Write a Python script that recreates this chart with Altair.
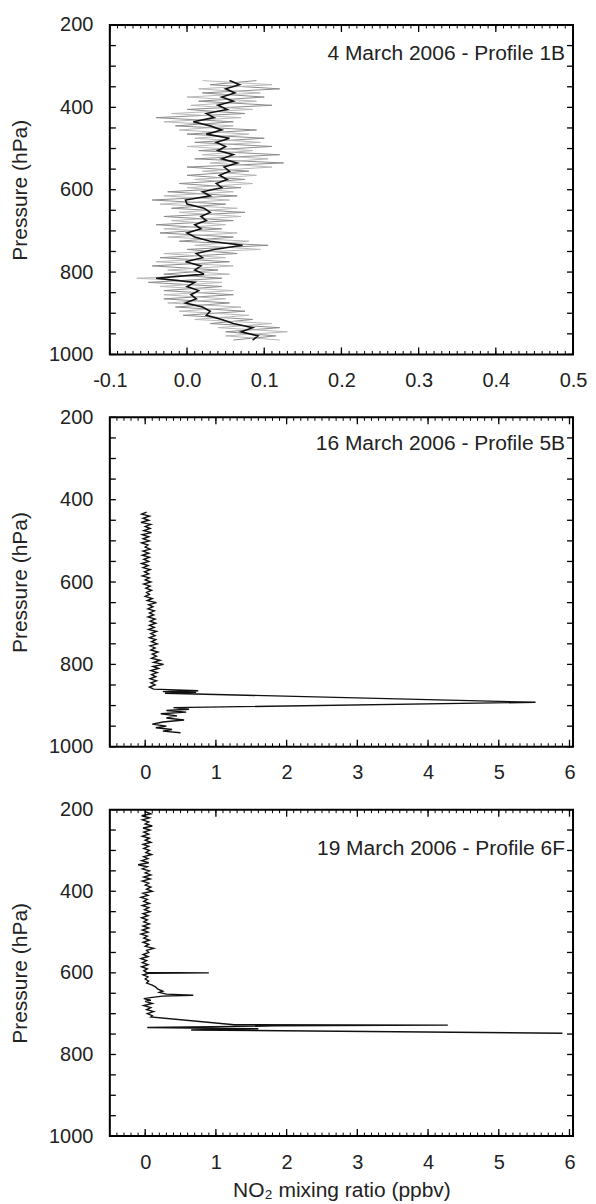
import altair as alt
import pandas as pd

FONT = "Liberation Sans"
TXT = "#222222"
W = 464
H1, H2, H3 = 330, 330, 327

# ---------------- texts ----------------
annotations = ["4 March 2006 - Profile 1B",
               "16 March 2006 - Profile 5B",
               "19 March 2006 - Profile 6F"]
y_title = "Pressure (hPa)"
x_title = "NO\u2082 mixing ratio (ppbv)"

# ---------------- axis values ----------------
y_label_values = [200, 400, 600, 800, 1000]
y_tick_values = [200, 250, 300, 350, 400, 450, 500, 550, 600, 650,
                 700, 750, 800, 850, 900, 950, 1000]
x1_label_values = [-0.1, 0.0, 0.1, 0.2, 0.3, 0.4, 0.5]
x1_minor = [round(-0.1 + 0.01 * i, 2) for i in range(61)]
x23_label_values = [0, 1, 2, 3, 4, 5, 6]
x23_minor = [round(-0.5 + 0.1 * i, 1) for i in range(66)]

# ---------------- panel 1 data (4 March 2006) ----------------
p1_pressure = [335, 345, 355, 365, 375, 385, 395, 405, 415, 425,
               435, 445, 455, 465, 475, 485, 495, 505, 515, 525,
               535, 545, 555, 565, 575, 585, 595, 605, 615, 625,
               635, 645, 655, 665, 675, 685, 695, 705, 715, 725,
               735, 745, 755, 765, 775, 785, 795, 805, 815, 825,
               835, 845, 855, 865, 875, 885, 895, 905, 915, 925,
               935, 945, 955, 965]
p1_black = [0.055, 0.068, 0.050, 0.062, 0.045, 0.060, 0.040, 0.052, 0.025, 0.035,
            0.008, 0.030, 0.045, 0.025, 0.055, 0.038, 0.050, 0.040, 0.060, 0.045,
            0.065, 0.048, 0.055, 0.042, 0.052, 0.038, 0.045, 0.020, 0.030, -0.002,
            0.000, 0.022, 0.030, 0.018, 0.025, 0.010, 0.018, 0.000, 0.010, 0.030,
            0.072, 0.035, 0.012, 0.020, -0.002, 0.018, 0.010, 0.022, -0.040, 0.010,
            0.000, 0.015, 0.005, 0.012, -0.002, 0.020, 0.030, 0.025, 0.045, 0.060,
            0.085, 0.070, 0.092, 0.085]
p1_gray_a = [0.020, 0.110, 0.015, 0.095, 0.000, 0.090, 0.005, 0.085, -0.020, 0.070,
             -0.030, 0.060, -0.010, 0.080, 0.010, 0.095, 0.000, 0.085, 0.020, 0.105,
             0.030, 0.110, 0.020, 0.090, 0.010, 0.085, 0.000, 0.060, -0.030, 0.055,
             -0.035, 0.065, -0.010, 0.070, -0.020, 0.050, -0.030, 0.065, -0.025, 0.080,
             0.010, 0.095, -0.030, 0.050, -0.040, 0.060, -0.025, 0.055, -0.065, 0.045,
             -0.035, 0.060, -0.030, 0.050, -0.025, 0.070, -0.010, 0.080, 0.010, 0.110,
             0.040, 0.130, 0.050, 0.120]
p1_gray_b = [0.090, 0.030, 0.120, 0.020, 0.100, 0.015, 0.110, 0.000, 0.075, -0.040,
             0.060, -0.015, 0.090, 0.000, 0.100, 0.010, 0.110, 0.015, 0.120, 0.010,
             0.125, 0.000, 0.080, 0.000, 0.075, -0.010, 0.070, -0.025, 0.065, -0.045,
             0.050, -0.020, 0.075, -0.030, 0.060, -0.040, 0.045, -0.035, 0.060, -0.010,
             0.105, 0.000, 0.065, -0.035, 0.055, -0.045, 0.040, -0.030, 0.045, -0.050,
             0.045, -0.030, 0.060, -0.030, 0.055, -0.015, 0.075, -0.005, 0.085, 0.030,
             0.120, 0.050, 0.115, 0.060]

# ---------------- panel 2 data (16 March 2006) ----------------
p2_pressure = [430, 435, 440, 445, 450, 455, 460, 465, 470, 475,
               480, 485, 490, 495, 500, 505, 510, 515, 520, 525,
               530, 535, 540, 545, 550, 555, 560, 565, 570, 575,
               580, 585, 590, 595, 600, 605, 610, 615, 620, 625,
               630, 635, 640, 645, 650, 655, 660, 665, 670, 675,
               680, 685, 690, 695, 700, 705, 710, 715, 720, 725,
               730, 735, 740, 745, 750, 755, 760, 765, 770, 775,
               780, 785, 790, 795, 800, 805, 810, 815, 820, 825,
               830, 835, 840, 845, 850, 855, 860,
               864, 866, 868, 870, 892, 905, 909, 912, 916, 920,
               925, 930, 935, 940, 945, 950, 954, 958, 962, 966]
p2_no2 = [0.02, -0.05, 0.06, -0.03, 0.05, -0.06, 0.08, 0.00, 0.07, -0.02,
          0.09, -0.04, 0.05, -0.03, 0.06, -0.05, 0.04, 0.00, 0.07, -0.03,
          0.05, -0.04, 0.06, -0.02, 0.05, -0.05, 0.04, -0.03, 0.07, -0.01,
          0.05, -0.04, 0.06, 0.00, 0.08, -0.02, 0.07, 0.01, 0.09, 0.02,
          0.06, 0.00, 0.10, 0.03, 0.16, 0.05, 0.11, 0.04, 0.13, 0.06,
          0.12, 0.04, 0.14, 0.07, 0.15, 0.06, 0.13, 0.05, 0.16, 0.08,
          0.14, 0.06, 0.15, 0.09, 0.17, 0.07, 0.14, 0.08, 0.18, 0.10,
          0.16, 0.09, 0.21, 0.12, 0.26, 0.11, 0.19, 0.08, 0.17, 0.09,
          0.15, 0.07, 0.16, 0.08, 0.14, 0.06, 0.12,
          0.75, 0.25, 0.72, 0.28, 5.52, 0.40, 0.62, 0.30, 0.58, 0.22,
          0.45, 0.30, 0.55, 0.25, 0.10, 0.30, 0.15, 0.38, 0.25, 0.50]

# ---------------- panel 3 data (19 March 2006) ----------------
p3_pressure = [205, 210, 215, 220, 225, 230, 235, 240, 245, 250,
               255, 260, 265, 270, 275, 280, 285, 290, 295, 300,
               305, 310, 315, 320, 325, 330, 335, 340, 345, 350,
               355, 360, 365, 370, 375, 380, 385, 390, 395, 400,
               405, 410, 415, 420, 425, 430, 435, 440, 445, 450,
               455, 460, 465, 470, 475, 480, 485, 490, 495, 500,
               505, 510, 515, 520, 525, 530, 535, 540, 545, 550,
               555, 560, 565, 570, 575, 580, 585, 590, 595, 599,
               600, 601, 605, 610, 615, 620, 625, 630, 635, 640,
               645, 648, 652, 655, 657, 660, 663, 667, 670, 675,
               680, 685, 690, 695, 700, 705, 708, 727, 728, 730,
               734, 737, 740, 748]
p3_no2 = [0.00, 0.08, -0.05, 0.06, -0.04, 0.05, 0.00, 0.10, -0.03, 0.07,
          -0.02, 0.05, -0.04, 0.06, 0.00, 0.08, -0.03, 0.05, -0.02, 0.06,
          0.01, 0.09, -0.02, 0.04, -0.05, 0.05, -0.10, 0.03, -0.04, 0.06,
          0.00, 0.08, -0.02, 0.07, -0.04, 0.05, 0.00, 0.08, 0.02, 0.10,
          -0.03, 0.04, -0.06, 0.03, -0.02, 0.06, -0.04, 0.05, -0.01, 0.07,
          -0.03, 0.04, -0.05, 0.03, -0.02, 0.06, -0.03, 0.05, -0.04, 0.04,
          -0.06, 0.03, -0.02, 0.06, -0.03, 0.05, 0.00, 0.12, 0.02, 0.05,
          -0.03, 0.04, -0.06, 0.02, -0.04, 0.04, -0.05, 0.03, -0.02, 0.02,
          0.90, 0.05, -0.03, 0.04, 0.00, 0.05, 0.02, 0.10, 0.15, 0.18,
          0.25, 0.20, 0.30, 0.68, 0.25, 0.10, -0.02, 0.08, 0.00, 0.10,
          -0.02, 0.08, 0.02, 0.12, 0.03, 0.10, 0.08, 1.26, 4.28, 1.84,
          0.03, 1.60, 0.65, 5.90]


def line_layer(p, v, color, width, xs, ys, xaxis, yaxis):
    df = pd.DataFrame({"i": list(range(len(p))), "p": p, "v": v})
    return alt.Chart(df).mark_line(color=color, strokeWidth=width, clip=True).encode(
        x=alt.X("v:Q", scale=xs, axis=xaxis),
        y=alt.Y("p:Q", scale=ys, axis=yaxis),
        order=alt.Order("i:Q"),
    )


def tick_layers(xs, ys, H, minor, major, xaxis, yaxis):
    yt = pd.DataFrame({"p": y_tick_values})
    mn = pd.DataFrame({"v": minor})
    mj = pd.DataFrame({"v": major})
    st = dict(color="black", strokeWidth=1.3)
    left = alt.Chart(yt).mark_rule(**st).encode(
        y=alt.Y("p:Q", scale=ys, axis=yaxis), x=alt.value(0), x2=alt.value(6))
    right = alt.Chart(yt).mark_rule(**st).encode(
        y=alt.Y("p:Q", scale=ys, axis=yaxis), x=alt.value(W - 6), x2=alt.value(W))
    bmin = alt.Chart(mn).mark_rule(color="black", strokeWidth=1).encode(
        x=alt.X("v:Q", scale=xs, axis=xaxis), y=alt.value(H), y2=alt.value(H - 3.5))
    tmin = alt.Chart(mn).mark_rule(color="black", strokeWidth=1).encode(
        x=alt.X("v:Q", scale=xs, axis=xaxis), y=alt.value(0), y2=alt.value(3.5))
    bmaj = alt.Chart(mj).mark_rule(**st).encode(
        x=alt.X("v:Q", scale=xs, axis=xaxis), y=alt.value(H), y2=alt.value(H - 7))
    tmaj = alt.Chart(mj).mark_rule(**st).encode(
        x=alt.X("v:Q", scale=xs, axis=xaxis), y=alt.value(0), y2=alt.value(7))
    return [left, right, bmin, tmin, bmaj, tmaj]


def make_axes(xvals, xlabel_expr, with_title):
    yaxis = alt.Axis(values=y_label_values, format="d", title=y_title,
                     ticks=False, domain=False, grid=False,
                     labelPadding=17, labelFontSize=20, titleFontSize=21,
                     titlePadding=18, labelColor=TXT, titleColor=TXT,
                     labelFont=FONT, titleFont=FONT, titleFontWeight="normal")
    xkw = dict(values=xvals, labelExpr=xlabel_expr, ticks=False, domain=False,
               grid=False, labelPadding=16, labelFontSize=20, labelFlush=False,
               labelOverlap=False, labelColor=TXT, labelFont=FONT)
    if with_title:
        xaxis = alt.Axis(title=x_title, titleFontSize=21, titlePadding=8,
                         titleColor=TXT, titleFont=FONT,
                         titleFontWeight="normal", **xkw)
    else:
        xaxis = alt.Axis(title=None, **xkw)
    return xaxis, yaxis


def annot(text, ypos):
    df = pd.DataFrame({"t": [text]})
    return alt.Chart(df).mark_text(align="right", baseline="middle", fontSize=21,
                                   font=FONT, color=TXT).encode(
        text="t:N", x=alt.value(W - 8), y=alt.value(ypos))


LABEL_1DEC = "datum.value < 0 ? '-' + format(-datum.value, '.1f') : format(datum.value, '.1f')"
LABEL_INT = "format(datum.value, 'd')"

ys = alt.Scale(domain=[200, 1000], reverse=True, nice=False, zero=False)

# panel 1
xs1 = alt.Scale(domain=[-0.1, 0.5], nice=False, zero=False)
xa1, ya1 = make_axes(x1_label_values, LABEL_1DEC, False)
panel1 = alt.layer(
    line_layer(p1_pressure, p1_gray_b, "#8c8c8c", 1, xs1, ys, xa1, ya1),
    line_layer(p1_pressure, p1_gray_a, "#b8b8b8", 1, xs1, ys, xa1, ya1),
    line_layer(p1_pressure, p1_black, "#111111", 1.6, xs1, ys, xa1, ya1),
    *tick_layers(xs1, ys, H1, x1_minor, x1_label_values, xa1, ya1),
    annot(annotations[0], 29),
).properties(width=W, height=H1)

# panel 2
xs2 = alt.Scale(domain=[-0.5, 6.05], nice=False, zero=False)
xa2, ya2 = make_axes(x23_label_values, LABEL_INT, False)
panel2 = alt.layer(
    line_layer(p2_pressure, p2_no2, "#111111", 1.4, xs2, ys, xa2, ya2),
    *tick_layers(xs2, ys, H2, x23_minor, x23_label_values, xa2, ya2),
    annot(annotations[1], 27),
).properties(width=W, height=H2)

# panel 3
xa3, ya3 = make_axes(x23_label_values, LABEL_INT, True)
panel3 = alt.layer(
    line_layer(p3_pressure, p3_no2, "#111111", 1.4, xs2, ys, xa3, ya3),
    *tick_layers(xs2, ys, H3, x23_minor, x23_label_values, xa3, ya3),
    annot(annotations[2], 39),
).properties(width=W, height=H3)

chart = alt.vconcat(
    panel1, panel2, panel3, spacing=15,
    padding={"left": 0, "right": 0, "top": 5, "bottom": 0},
).configure(
    background="white"
).configure_view(
    stroke="black", strokeWidth=2
)

chart.save("out.html", embed_options={"renderer": "svg", "actions": False})
